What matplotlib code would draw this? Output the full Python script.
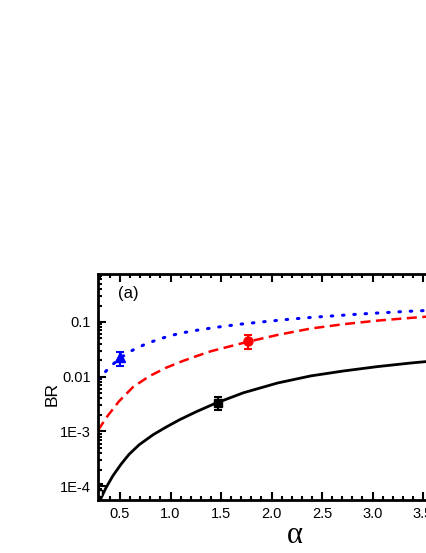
import numpy as np
import matplotlib
matplotlib.use("Agg")
import matplotlib.pyplot as plt
from matplotlib.ticker import FixedLocator, MultipleLocator, LogLocator, NullFormatter, FormatStrFormatter

plt.rcParams['font.family'] = ['Liberation Sans', 'DejaVu Sans']

# curves (alpha, BR)
alpha_black = [0.29, 0.311, 0.361, 0.43, 0.51, 0.589, 0.689, 0.828, 0.957, 1.086, 1.255, 1.434,
               1.72, 2.06, 2.39, 2.71, 3.05, 3.38, 3.56]
br_black = [4.9e-5, 6.0e-5, 9.3e-5, 1.55e-4, 2.51e-4, 3.8e-4, 5.69e-4, 8.7e-4, 1.20e-3, 1.62e-3,
            2.29e-3, 3.2e-3, 5.07e-3, 7.67e-3, 1.035e-2, 1.27e-2, 1.53e-2, 1.78e-2, 1.91e-2]

alpha_red = [0.282, 0.38, 0.49, 0.63, 0.79, 0.957, 1.126, 1.255, 1.40, 1.77, 2.06, 2.39, 2.71,
             3.05, 3.38, 3.56]
br_red = [1.05e-3, 1.95e-3, 3.55e-3, 6.5e-3, 1.02e-2, 1.46e-2, 1.95e-2, 2.37e-2, 2.92e-2, 4.37e-2,
          5.8e-2, 7.6e-2, 9.1e-2, 0.106, 0.119, 0.126]

alpha_blue = [0.282, 0.39, 0.50, 0.62, 0.74, 0.86, 0.98, 1.10, 1.23, 1.44, 1.69, 1.92, 2.17, 2.41,
              2.63, 2.88, 3.11, 3.36, 3.56]
br_blue = [8.7e-3, 1.45e-2, 2.19e-2, 3.02e-2, 3.85e-2, 4.68e-2, 5.5e-2, 6.24e-2, 6.92e-2, 7.94e-2,
           9.12e-2, 0.101, 0.112, 0.122, 0.130, 0.140, 0.148, 0.157, 0.163]

# measured points with errors: x, y, lower, upper
pt_black = (1.47, 3.3e-3, 2.45e-3, 4.3e-3)
pt_red = (1.77, 0.045, 0.032, 0.058)
pt_blue = (0.50, 0.023, 0.016, 0.028)
pt_edge = (0.295, 7.5e-5, 5.5e-5, 1.1e-4)

ytick_vals = [1e-4, 1e-3, 1e-2, 1e-1]
ytick_labels = ['1E-4', '1E-3', '0.01', '0.1']

fig = plt.figure(figsize=(4.27, 5.53), dpi=100)
ax = fig.add_axes([98 / 427, 53 / 553, 375.5 / 427, 226 / 553])

ax.plot(alpha_black, br_black, color='black', lw=2.0)
ax.plot(alpha_red, br_red, color='red', lw=1.8, linestyle=(0, (4, 2.2)))
ax.plot(alpha_blue, br_blue, color='blue', lw=2.2, linestyle=(0, (0.5, 3.2)),
        dash_capstyle='round')


def point(p, color, marker, ms, mfc=None):
    x, y, lo, hi = p
    ax.errorbar([x], [y], yerr=[[y - lo], [hi - y]], fmt=marker, color=color, ms=ms,
                mfc=mfc if mfc else color, mec=color, elinewidth=1.5, capsize=3, capthick=1.5)


point(pt_black, 'black', 's', 6)
point(pt_red, 'red', 'o', 6.5)
point(pt_blue, 'blue', '^', 7.5)
point(pt_edge, 'black', 's', 5, mfc='white')

ax.set_yscale('log')
ax.set_xlim(0.282, 4.0)
ax.set_ylim(5.57e-5, 0.754)

ax.yaxis.set_major_locator(FixedLocator(ytick_vals))
ax.set_yticklabels(ytick_labels)
ax.yaxis.set_minor_locator(LogLocator(base=10, subs=np.arange(2, 10)))
ax.yaxis.set_minor_formatter(NullFormatter())
ax.xaxis.set_major_locator(MultipleLocator(0.5))
ax.xaxis.set_minor_locator(MultipleLocator(0.1))
ax.xaxis.set_major_formatter(FormatStrFormatter('%.1f'))

ax.tick_params(which='both', direction='in', top=True, right=True, width=1.5)
ax.tick_params(which='major', length=6, labelsize=10.5, pad=5)
ax.tick_params(which='minor', length=3)
for s in ax.spines.values():
    s.set_linewidth(2.0)

ax.set_ylabel('BR', fontsize=12.5)
ax.yaxis.set_label_coords((60 - 98) / 375.5, 0.47)
ax.set_xlabel('α', fontsize=22, family=['Liberation Serif', 'DejaVu Serif'], va='baseline')
ax.xaxis.set_label_coords((295 - 98) / 375.5, -(543 - 500) / 226)
ax.text(0.052, 0.915, '(a)', transform=ax.transAxes, fontsize=12, va='center')

fig.savefig('out.png', dpi=100)
